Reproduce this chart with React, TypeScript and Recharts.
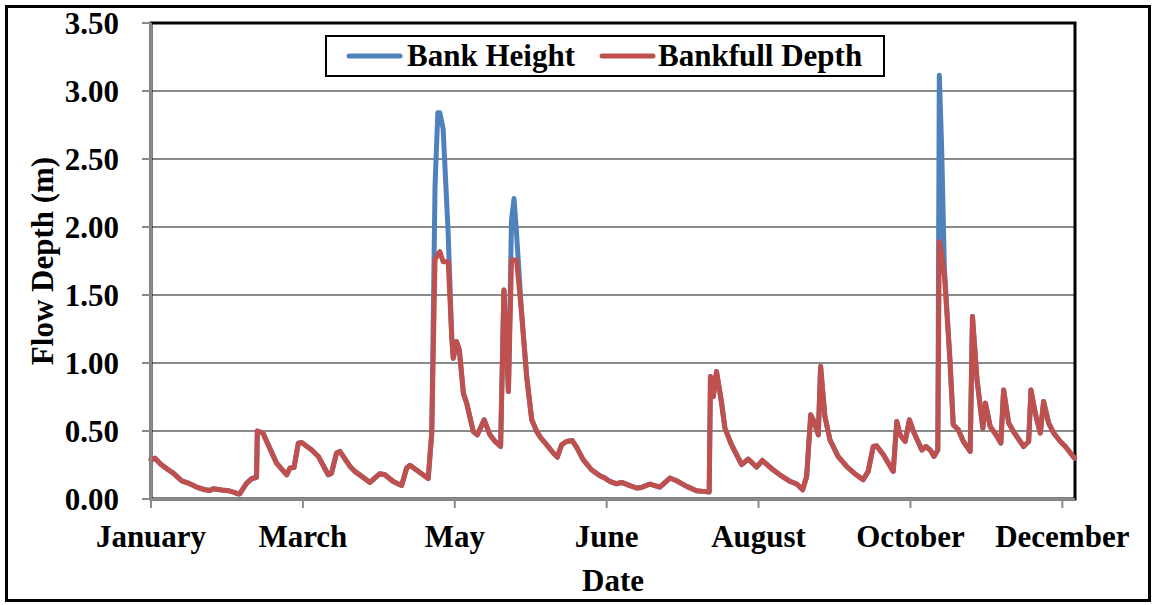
import React from 'react';
import { LineChart, Line, XAxis, YAxis, CartesianGrid, ReferenceArea, Legend, Label } from 'recharts';

const monthLabels = ['January', 'March', 'May', 'June', 'August', 'October', 'December'];
const monthTicks = [0, 60, 120, 180, 240, 300, 360];
const yTicks = [0, 0.5, 1, 1.5, 2, 2.5, 3, 3.5];

// day of year for each vertex of the traced lines
const days = [
  0.0, 1.6, 3.6, 6.8, 8.8, 12.1, 14.7, 18.0, 21.3, 23.3, 24.6, 27.9, 30.5, 32.5, 34.5, 35.1,
  37.8, 39.8, 41.7, 42.0, 44.2, 46.9, 49.6, 53.6, 54.9, 56.5, 58.2, 59.5, 63.4, 66.1, 70.0,
  71.3, 73.3, 74.6, 78.6, 80.5, 83.8, 86.5, 90.4, 92.4, 95.7, 99.0, 101.0, 102.3, 109.5,
  110.9, 112.2, 113.3, 114.1, 115.4, 117.4, 118.8, 119.4, 120.7, 121.8, 123.4, 124.7, 127.3,
  128.9, 131.6, 133.9, 135.9, 138.1, 139.4, 141.2, 142.4, 143.4, 144.4, 146.4, 148.4, 150.4,
  152.4, 154.0, 156.3, 158.9, 160.5, 162.2, 164.2, 166.4, 168.1, 170.7, 174.0, 177.3, 179.3,
  181.3, 183.9, 185.9, 189.2, 191.8, 193.8, 197.1, 201.0, 205.0, 207.6, 211.6, 215.5, 218.1,
  220.5, 221.0, 222.1, 223.4, 225.4, 226.7, 229.3, 233.3, 235.9, 239.2, 241.5, 245.7, 248.4,
  252.4, 255.0, 257.4, 259.0, 260.6, 261.6, 263.6, 264.5, 266.2, 268.2, 271.4, 274.8, 278.0,
  281.3, 283.3, 285.3, 286.6, 289.3, 293.2, 294.6, 295.9, 297.9, 299.6, 301.2, 304.5, 306.1,
  307.8, 309.3, 310.8, 311.4, 312.3, 313.4, 315.6, 316.9, 318.9, 320.9, 323.6, 324.5, 326.3,
  328.6, 329.6, 331.5, 334.2, 335.7, 336.8, 338.8, 340.7, 344.7, 346.7, 347.6, 349.3, 351.3,
  352.6, 354.6, 356.6, 359.2, 361.2, 364.8,
];

const bankfullDepth = [
  0.29, 0.30, 0.26, 0.215, 0.19, 0.134, 0.117, 0.088, 0.068, 0.063, 0.076, 0.066, 0.061, 0.051, 0.037, 0.039,
  0.117, 0.149, 0.16, 0.50, 0.485, 0.374, 0.264, 0.178, 0.228, 0.232, 0.41, 0.415, 0.362, 0.313, 0.178,
  0.19, 0.338, 0.35, 0.24, 0.203, 0.159, 0.122, 0.186, 0.178, 0.129, 0.10, 0.228, 0.248, 0.15,
  0.485, 1.757, 1.80, 1.818, 1.745, 1.745, 1.19, 1.035, 1.157, 1.096, 0.778, 0.705, 0.496,
  0.472, 0.582, 0.472, 0.423, 0.386, 1.537, 0.79, 1.757, 1.757, 1.757, 1.366, 0.90, 0.582,
  0.496, 0.45, 0.399, 0.338, 0.308, 0.399, 0.423, 0.43, 0.382, 0.289, 0.215, 0.171, 0.154,
  0.129, 0.112, 0.122, 0.098, 0.081, 0.085, 0.110, 0.088, 0.154, 0.134, 0.093, 0.061, 0.056,
  0.051, 0.90, 0.753, 0.937, 0.705, 0.521, 0.399, 0.252, 0.294, 0.235, 0.283, 0.215, 0.178,
  0.129, 0.112, 0.068, 0.166, 0.619, 0.582, 0.472, 0.974, 0.607, 0.435, 0.313, 0.239, 0.186,
  0.142, 0.203, 0.386, 0.391, 0.325, 0.203, 0.57, 0.472, 0.423, 0.582, 0.496, 0.36, 0.386,
  0.36, 0.313, 0.36, 1.891, 1.80, 1.65, 1.023, 0.546, 0.509, 0.423, 0.35, 1.341, 0.876,
  0.521, 0.705, 0.533, 0.46, 0.411, 0.802, 0.558, 0.496, 0.386, 0.423, 0.802, 0.631, 0.485,
  0.717, 0.558, 0.485, 0.423, 0.386, 0.30,
];

const bankHeight = [
  0.29, 0.30, 0.26, 0.215, 0.19, 0.134, 0.117, 0.088, 0.068, 0.063, 0.076, 0.066, 0.061, 0.051, 0.037, 0.039,
  0.117, 0.149, 0.16, 0.50, 0.485, 0.374, 0.264, 0.178, 0.228, 0.232, 0.41, 0.415, 0.362, 0.313, 0.178,
  0.19, 0.338, 0.35, 0.24, 0.203, 0.159, 0.122, 0.186, 0.178, 0.129, 0.10, 0.228, 0.248, 0.15,
  0.485, 2.30, 2.84, 2.84, 2.72, 1.95, 1.19, 1.035, 1.157, 1.096, 0.778, 0.705, 0.496,
  0.472, 0.582, 0.472, 0.423, 0.386, 1.537, 0.79, 2.05, 2.21, 1.95, 1.366, 0.90, 0.582,
  0.496, 0.45, 0.399, 0.338, 0.308, 0.399, 0.423, 0.43, 0.382, 0.289, 0.215, 0.171, 0.154,
  0.129, 0.112, 0.122, 0.098, 0.081, 0.085, 0.110, 0.088, 0.154, 0.134, 0.093, 0.061, 0.056,
  0.051, 0.90, 0.753, 0.937, 0.705, 0.521, 0.399, 0.252, 0.294, 0.235, 0.283, 0.215, 0.178,
  0.129, 0.112, 0.068, 0.166, 0.619, 0.582, 0.472, 0.974, 0.607, 0.435, 0.313, 0.239, 0.186,
  0.142, 0.203, 0.386, 0.391, 0.325, 0.203, 0.57, 0.472, 0.423, 0.582, 0.496, 0.36, 0.386,
  0.36, 0.313, 0.36, 3.115, 2.60, 1.70, 1.023, 0.546, 0.509, 0.423, 0.35, 1.341, 0.876,
  0.521, 0.705, 0.533, 0.46, 0.411, 0.802, 0.558, 0.496, 0.386, 0.423, 0.802, 0.631, 0.485,
  0.717, 0.558, 0.485, 0.423, 0.386, 0.30,
];

const data = days.map((d, i) => ({ day: d, bankHeight: bankHeight[i], bankfullDepth: bankfullDepth[i] }));

const FONT = "'Liberation Serif', 'Times New Roman', serif";
const BLUE = '#4F81BD';
const RED = '#C0504D';
const GRID = '#8a8a8a';

const tickStyle = { fill: '#000', fontSize: 31, fontWeight: 'bold', fontFamily: FONT };

const renderLegend = () => (
  <div
    style={{
      position: 'relative',
      width: 560,
      height: 42,
      border: '2px solid #000',
      boxSizing: 'border-box',
      background: '#fff',
      fontFamily: FONT,
      fontWeight: 'bold',
      fontSize: 31,
      color: '#000',
    }}
  >
    <svg width={60} height={10} style={{ position: 'absolute', left: 18, top: 14 }}>
      <line x1={4} y1={5} x2={55} y2={5} stroke={BLUE} strokeWidth={5} strokeLinecap="round" />
    </svg>
    <span style={{ position: 'absolute', left: 80, top: 1, lineHeight: '36px', whiteSpace: 'nowrap' }}>Bank Height</span>
    <svg width={60} height={10} style={{ position: 'absolute', left: 271, top: 14 }}>
      <line x1={4} y1={5} x2={55} y2={5} stroke={RED} strokeWidth={5} strokeLinecap="round" />
    </svg>
    <span style={{ position: 'absolute', left: 331, top: 1, lineHeight: '36px', whiteSpace: 'nowrap' }}>Bankfull Depth</span>
  </div>
);

const YTitle = (props: any) => {
  const vb = props.viewBox || { y: 23, height: 476 };
  const cy = vb.y + vb.height / 2;
  return (
    <text x={53} y={cy} transform={`rotate(-90 53 ${cy})`} textAnchor="middle" style={tickStyle as any}>
      Flow Depth (m)
    </text>
  );
};

const XTitle = (props: any) => {
  const vb = props.viewBox || { x: 151, width: 924 };
  const cx = vb.x + vb.width / 2;
  return (
    <text x={cx} y={591} textAnchor="middle" style={tickStyle as any}>
      Date
    </text>
  );
};

export default function App() {
  return (
    <div style={{ position: 'absolute', left: 0, top: 0, width: 1156, height: 605, background: '#fff' }}>
      <LineChart
        width={1156}
        height={605}
        data={data}
        margin={{ top: 23, right: 81, bottom: 0, left: 0 }}
      >
        <CartesianGrid vertical={false} stroke={GRID} strokeWidth={2} />
        <XAxis
          dataKey="day"
          type="number"
          domain={[0, 365]}
          ticks={monthTicks}
          tickFormatter={(v: number) => monthLabels[monthTicks.indexOf(v)] ?? ''}
          interval={0}
          height={106}
          tick={tickStyle}
          tickSize={9}
          tickMargin={17}
          tickLine={{ stroke: GRID, strokeWidth: 2 }}
          axisLine={{ stroke: GRID, strokeWidth: 2 }}
        >
          <Label content={<XTitle />} />
        </XAxis>
        <YAxis
          type="number"
          domain={[0, 3.5]}
          ticks={yTicks}
          tickFormatter={(v: number) => v.toFixed(2)}
          width={151}
          tick={tickStyle}
          tickSize={9}
          tickMargin={23}
          tickLine={{ stroke: GRID, strokeWidth: 2 }}
          axisLine={{ stroke: GRID, strokeWidth: 2 }}
          interval={0}
        >
          <Label content={<YTitle />} />
        </YAxis>
        <ReferenceArea x1={0} x2={365} y1={0} y2={3.5} fill="none" stroke="#000" strokeWidth={3} ifOverflow="visible" />
        <Line
          type="linear"
          dataKey="bankHeight"
          name="Bank Height"
          stroke={BLUE}
          strokeWidth={5}
          strokeLinejoin="round"
          strokeLinecap="round"
          dot={false}
          isAnimationActive={false}
        />
        <Line
          type="linear"
          dataKey="bankfullDepth"
          name="Bankfull Depth"
          stroke={RED}
          strokeWidth={5}
          strokeLinejoin="round"
          strokeLinecap="round"
          dot={false}
          isAnimationActive={false}
        />
        <Legend
          layout="vertical"
          verticalAlign="middle"
          align="center"
          content={renderLegend}
          wrapperStyle={{ position: 'absolute', left: 325, top: 35, width: 560, height: 42 }}
        />
      </LineChart>
      <div
        style={{
          position: 'absolute',
          left: 5,
          top: 5,
          width: 1146,
          height: 597,
          border: '3px solid #000',
          boxSizing: 'border-box',
          pointerEvents: 'none',
        }}
      />
    </div>
  );
}
